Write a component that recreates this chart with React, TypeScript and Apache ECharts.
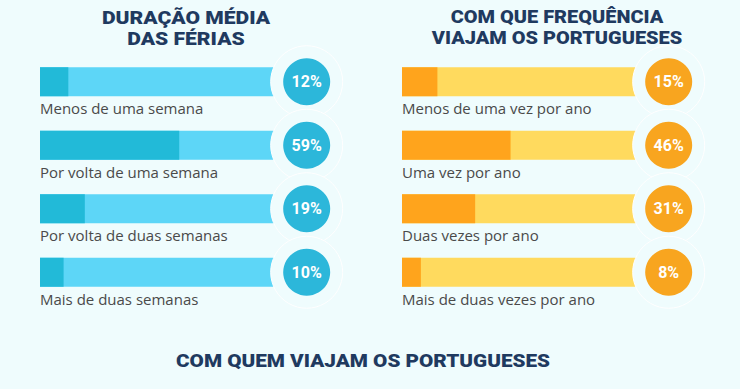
import React, { useEffect, useRef } from "react";
import * as echarts from "echarts";

const durationCategories = [
  "Menos de uma semana",
  "Por volta de uma semana",
  "Por volta de duas semanas",
  "Mais de duas semanas",
];
const durationValues = [12, 59, 19, 10];

const frequencyCategories = [
  "Menos de uma vez por ano",
  "Uma vez por ano",
  "Duas vezes por ano",
  "Mais de duas vezes por ano",
];
const frequencyValues = [15, 46, 31, 8];

const titleLeft = ["DURAÇÃO MÉDIA", "DAS FÉRIAS"];
const titleRight = ["COM QUE FREQUÊNCIA", "VIAJAM OS PORTUGUESES"];
const titleBottom = "COM QUEM VIAJAM OS PORTUGUESES";

const BG = "#effcfd";
const NAVY = "#1f3a60";
const LABEL = "#4a4a4a";
const TITLE_FONT = "Roboto, 'Open Sans', sans-serif";
const BODY_FONT = "'Open Sans', Roboto, sans-serif";

const CIRCLE_X = 113;

function panelSeries(idx: number, cats: string[], vals: number[], light: string, dark: string, circle: string) {
  return [
    {
      type: "bar",
      xAxisIndex: idx,
      yAxisIndex: idx,
      data: vals.map(() => 100),
      barWidth: 29,
      barGap: "-100%",
      itemStyle: { color: light },
      z: 1,
      label: {
        show: true,
        position: [0, 41],
        align: "left",
        verticalAlign: "middle",
        formatter: (p: any) => cats[p.dataIndex],
        color: LABEL,
        fontFamily: BODY_FONT,
        fontSize: 15,
      },
      silent: true,
    },
    {
      type: "bar",
      xAxisIndex: idx,
      yAxisIndex: idx,
      data: vals,
      barWidth: 29,
      barGap: "-100%",
      itemStyle: { color: dark },
      z: 2,
      silent: true,
    },
    {
      type: "scatter",
      xAxisIndex: idx,
      yAxisIndex: idx,
      data: vals.map((v, i) => [CIRCLE_X, i, v]),
      symbolSize: 72,
      itemStyle: { color: BG, borderColor: "#ffffff", borderWidth: 1, opacity: 1 },
      z: 3,
      silent: true,
    },
    {
      type: "scatter",
      xAxisIndex: idx,
      yAxisIndex: idx,
      data: vals.map((v, i) => [CIRCLE_X, i, v]),
      symbolSize: 47,
      itemStyle: { color: circle, opacity: 1 },
      z: 4,
      silent: true,
      label: {
        show: true,
        position: "inside",
        formatter: (p: any) => p.value[2] + "%",
        color: "#ffffff",
        fontFamily: TITLE_FONT,
        fontWeight: "bold",
        fontSize: 16,
      },
    },
  ];
}

function titleText(lines: string[], x: number, y: number, size: number, sx: number) {
  return {
    type: "text",
    x,
    y,
    scaleX: sx,
    silent: true,
    style: {
      text: lines.join("\n"),
      align: "center",
      verticalAlign: "top",
      textAlign: "center",
      textVerticalAlign: "top",
      lineHeight: 21,
      fill: NAVY,
      font: `900 ${size}px ${TITLE_FONT}`,
    },
  };
}

export default function App() {
  const ref = useRef<HTMLDivElement>(null);
  useEffect(() => {
    if (!ref.current) return;
    const chart = echarts.init(ref.current, undefined, { renderer: "svg" });
    const grid = (left: number) => ({ left, top: 50, width: 306.8, height: 254 });
    const xAxis = (i: number) => ({ type: "value", gridIndex: i, min: 0, max: 130, show: false });
    const yAxis = (i: number, cats: string[]) => ({
      type: "category",
      gridIndex: i,
      data: cats,
      inverse: true,
      show: false,
    });
    chart.setOption({
      animation: false,
      backgroundColor: BG,
      grid: [grid(40), grid(402)],
      xAxis: [xAxis(0), xAxis(1)],
      yAxis: [yAxis(0, durationCategories), yAxis(1, frequencyCategories)],
      series: [
        ...panelSeries(0, durationCategories, durationValues, "#5dd6f7", "#22bad8", "#2cb7da"),
        ...panelSeries(1, frequencyCategories, frequencyValues, "#ffda5e", "#ffa41c", "#f8a51f"),
      ],
      graphic: [
        titleText(titleLeft, 186, 6.5, 19, 1.11),
        titleText(titleRight, 557, 6.5, 19, 1.05),
        titleText([titleBottom], 363, 350.5, 19, 1.09),
      ],
    });
    return () => chart.dispose();
  }, []);
  return (
    <div
      ref={ref}
      style={{ position: "fixed", left: 0, top: 0, width: 740, height: 389, background: BG }}
    />
  );
}
